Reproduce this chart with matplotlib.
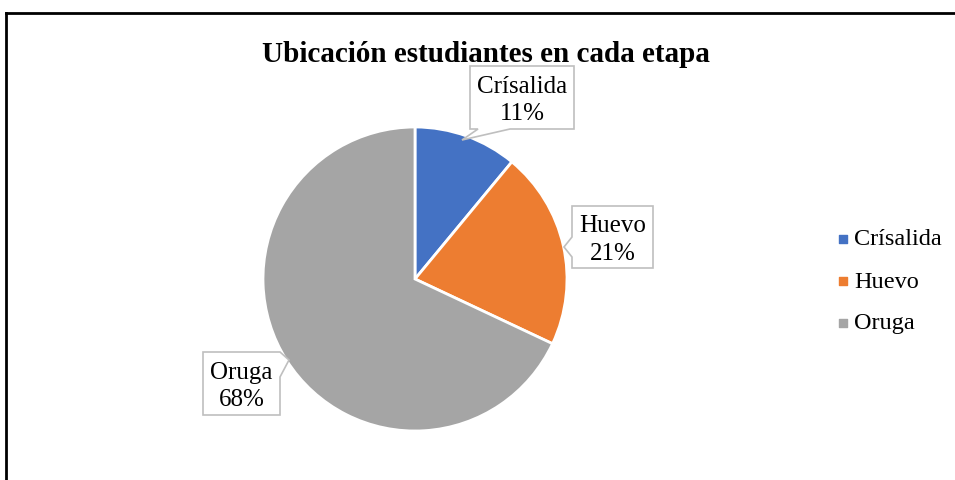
import matplotlib
matplotlib.use("Agg")
import matplotlib.pyplot as plt
from matplotlib.patches import Polygon

categories = ["Crísalida", "Huevo", "Oruga"]
values = [11, 21, 68]
colors = ["#4472C4", "#ED7D31", "#A5A5A5"]
title = "Ubicación estudiantes en cada etapa"

W, H = 955, 481
fig = plt.figure(figsize=(W / 100, H / 100), dpi=100)
ax = fig.add_axes([0, 0, 1, 1])

plt.rcParams["font.family"] = ["Liberation Serif", "DejaVu Serif"]

cx, cy, r = 415, H - 280, 152
wedges, _ = ax.pie(values, colors=colors, startangle=90, counterclock=False,
                   center=(cx, cy), radius=r, frame=True,
                   wedgeprops=dict(edgecolor="white", linewidth=2))
ax.set_xlim(0, W)
ax.set_ylim(0, H)
ax.set_aspect("equal")
ax.axis("off")

# border lines (top and left)
ax.plot([6, W], [H - 14, H - 14], color="black", lw=2, clip_on=False)
ax.plot([6, 6], [H - 14, 0], color="black", lw=2, clip_on=False)

ax.text(486, H - 55, title, ha="center", va="center", fontsize=21,
        fontweight="bold", family=["Liberation Serif"])

# callouts: box (x0, ytop, x1, ybottom) in pixel coords (y down), pointer
callouts = [
    dict(box=(470, 67, 574, 130), ptr=[(510, 130), (462, 141), (478, 130)], side="bottom"),
    dict(box=(572, 207, 653, 269), ptr=[(572, 238), (564, 248), (572, 258)], side="left"),
    dict(box=(203, 353, 280, 416), ptr=[(280, 353), (289, 361), (280, 378)], side="right"),
]

def Y(y):
    return H - y

for i, c in enumerate(callouts):
    x0, y0, x1, y1 = c["box"]
    p = c["ptr"]
    if c["side"] == "bottom":
        pts = [(x0, y0), (x1, y0), (x1, y1), p[0], p[1], p[2], (x0, y1)]
    elif c["side"] == "left":
        pts = [(x0, y0), (x1, y0), (x1, y1), (x0, y1), p[2], p[1], p[0]]
    else:
        pts = [(x0, y0), p[0], p[1], p[2], (x1, y1), (x0, y1)]
    poly = Polygon([(x, Y(y)) for x, y in pts], closed=True, facecolor="white",
                   edgecolor="#BFBFBF", lw=1.2, zorder=5)
    ax.add_patch(poly)
    ax.text((x0 + x1) / 2, Y((y0 + y1) / 2 + 2), f"{categories[i]}\n{values[i]}%",
            ha="center", va="center", fontsize=18, linespacing=1.35, zorder=6)

# legend
leg_y = [240, 282, 324]
for i, cat in enumerate(categories):
    ax.scatter([843], [Y(leg_y[i])], marker="s", s=36, color=colors[i], zorder=5)
    ax.text(854, Y(leg_y[i]), cat, ha="left", va="center", fontsize=17.5)

fig.savefig("out.png", dpi=100)
